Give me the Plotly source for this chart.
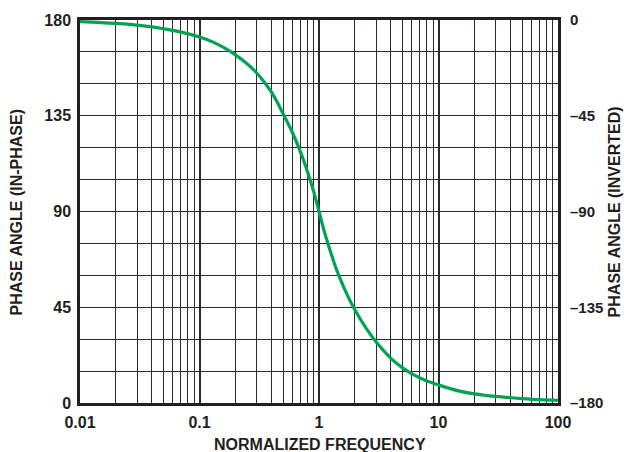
import plotly.graph_objects as go

# Data
freq = [0.01, 0.015, 0.02, 0.03, 0.04, 0.05, 0.07, 0.1, 0.13, 0.16, 0.2, 0.25, 0.3, 0.35,
        0.4, 0.45, 0.5, 0.6, 0.7, 0.8, 0.9, 1.0, 1.1, 1.25, 1.4, 1.6, 1.8, 2.0, 2.5, 3.0,
        4.0, 5.0, 6.0, 8.0, 10, 15, 20, 30, 50, 70, 100]
phase = [179.2, 178.8, 178.4, 177.6, 176.8, 175.9, 174.3, 172.0, 169.6, 167.0, 163.6, 159.4,
         155.2, 150.6, 146.1, 141.1, 136.0, 127.0, 118.0, 108.8, 99.6, 90.0, 81.2, 71.0,
         62.8, 54.8, 48.6, 43.7, 34.8, 28.8, 21.0, 16.5, 13.7, 10.3, 8.5, 5.6, 4.3, 3.1,
         2.1, 1.6, 1.3]

x_ticks = [0.01, 0.1, 1, 10, 100]
x_ticktext = ["0.01", "0.1", "1", "10", "100"]
y_ticks = [0, 45, 90, 135, 180]
y2_ticks = [0, -45, -90, -135, -180]
y2_ticktext = ["0", "\u201345", "\u201390", "\u2013135", "\u2013180"]

minor_x = [m * d for d in (0.01, 0.1, 1, 10) for m in range(2, 10)]

font = dict(family="Liberation Sans, Arial, sans-serif", size=16, color="#231f20", weight="bold")
font_r = dict(font, size=15)
grid_c = "#2b2b2b"

fig = go.Figure()
fig.add_trace(go.Scatter(x=freq, y=phase, mode="lines",
                         line=dict(color="#00a354", width=3.2, shape="spline", smoothing=1.0),
                         hoverinfo="skip", showlegend=False))
fig.add_trace(go.Scatter(x=[0.01, 100], y=[0, -180], yaxis="y2", mode="lines",
                         line=dict(width=0), opacity=0, hoverinfo="skip", showlegend=False))

fig.update_layout(
    width=624, height=452,
    margin=dict(l=80, r=66, t=20, b=49),
    paper_bgcolor="white", plot_bgcolor="white",
    font=font,
    xaxis=dict(type="log", range=[-2, 2], tickvals=x_ticks, ticktext=x_ticktext,
               showgrid=True, gridcolor=grid_c, gridwidth=2.2,
               minor=dict(tickvals=minor_x, showgrid=True, gridcolor=grid_c, gridwidth=1.4, ticks=""),
               showline=True, linecolor="#231f20", linewidth=2.5, mirror=True,
               ticks="", ticklabelstandoff=3, tickfont=font, zeroline=False),
    yaxis=dict(range=[0, 180], tickvals=y_ticks,
               showgrid=True, gridcolor=grid_c, gridwidth=1.4,
               minor=dict(dtick=15, tick0=0, showgrid=True, gridcolor=grid_c, gridwidth=1.4, ticks=""),
               showline=True, linecolor="#231f20", linewidth=2.5, mirror=True,
               ticks="", ticklabelstandoff=3, tickfont=font, zeroline=False),
    yaxis2=dict(range=[-180, 0], tickvals=y2_ticks, ticktext=y2_ticktext,
                overlaying="y", side="right", showgrid=False, zeroline=False,
                ticks="", ticklabelstandoff=11, tickfont=font_r),
    annotations=[
        dict(text="NORMALIZED FREQUENCY", xref="paper", yref="paper", x=0.502, y=-0.108,
             xanchor="center", yanchor="middle", showarrow=False, font=font),
        dict(text="PHASE ANGLE (IN-PHASE)", xref="paper", yref="paper", x=-0.1318, y=0.5,
             xanchor="center", yanchor="middle", textangle=-90, showarrow=False, font=font),
        dict(text="PHASE ANGLE (INVERTED)", xref="paper", yref="paper", x=1.119, y=0.5,
             xanchor="center", yanchor="middle", textangle=-90, showarrow=False, font=font),
    ],
)

fig.write_html("out.html")
